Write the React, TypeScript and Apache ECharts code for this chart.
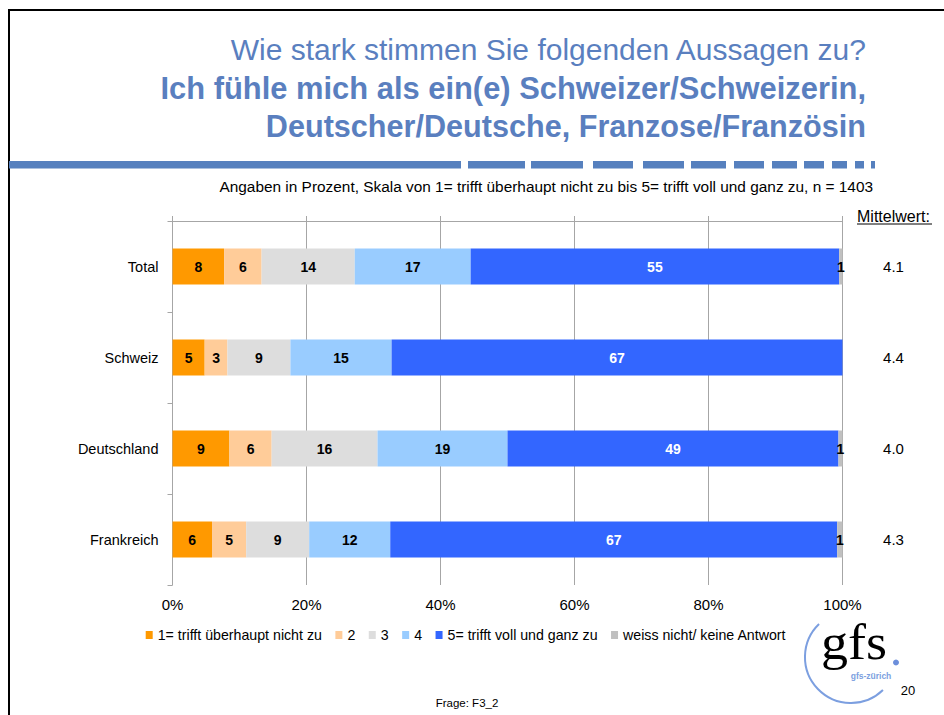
import React, { useEffect, useRef } from "react";
import * as echarts from "echarts";

const categories = ["Total", "Schweiz", "Deutschland", "Frankreich"];
const seriesNames = [
  "1= trifft überhaupt nicht zu",
  "2",
  "3",
  "4",
  "5= trifft voll und ganz zu",
  "weiss nicht/ keine Antwort",
];
const s1 = [7.7, 4.8, 8.5, 5.9];
const s2 = [5.6, 3.4, 6.3, 5.1];
const s3 = [13.9, 9.4, 15.8, 9.4];
const s4 = [17.3, 15.1, 19.4, 12.1];
const s5 = [55.0, 67.3, 49.4, 66.7];
const s6 = [0.5, 0, 0.6, 0.8];
const means = [4.1, 4.4, 4.0, 4.3];
const xTicks = [0, 20, 40, 60, 80, 100];

const colors = ["#FF9900", "#FFCC99", "#DDDDDD", "#99CCFF", "#3366FF", "#C0C0C0"];
const labelColors = ["#000", "#000", "#000", "#000", "#fff", "#000"];

const TITLE_BLUE = "#5A7FBF";
const BAR_BLUE = "#5680BE";
const FONT = "'Liberation Sans', Arial, sans-serif";

// decorative dash segments of the header rule [x0, x1]
const dashes: [number, number][] = [
  [9, 461], [468, 525], [531, 583], [593, 633], [643, 684], [691, 726],
  [734, 764], [772, 797], [804, 824], [832, 847], [855, 864], [871, 875],
];

export default function App() {
  const ref = useRef<HTMLDivElement>(null);
  useEffect(() => {
    if (!ref.current) return;
    const chart = echarts.init(ref.current, undefined, { renderer: "svg" });
    const data = [s1, s2, s3, s4, s5, s6];
    const gridColor = "#A6A6A6";
    const graphic: any[] = [
      {
        type: "rect",
        shape: { x: 9, y: 10, width: 960, height: 720 },
        style: { fill: "none", stroke: "#000", lineWidth: 2 },
        silent: true,
      },
      {
        type: "text", x: 866, y: 49.5,
        style: { text: "Wie stark stimmen Sie folgenden Aussagen zu?", fill: TITLE_BLUE, font: `30px ${FONT}`, textAlign: "right", textVerticalAlign: "middle" },
      },
      {
        type: "text", x: 866, y: 88.5,
        style: { text: "Ich fühle mich als ein(e) Schweizer/Schweizerin,", fill: TITLE_BLUE, font: `bold 30.9px ${FONT}`, textAlign: "right", textVerticalAlign: "middle" },
      },
      {
        type: "text", x: 866, y: 126,
        style: { text: "Deutscher/Deutsche, Franzose/Französin", fill: TITLE_BLUE, font: `bold 30.6px ${FONT}`, textAlign: "right", textVerticalAlign: "middle" },
      },
      ...dashes.map(([a, b]) => ({
        type: "rect",
        shape: { x: a, y: 161, width: b - a, height: 7.5 },
        style: { fill: BAR_BLUE },
        silent: true,
      })),
      {
        type: "text", x: 873, y: 186.5,
        style: { text: "Angaben in Prozent, Skala von 1= trifft überhaupt nicht zu bis 5= trifft voll und ganz zu, n = 1403", fill: "#000", font: `15.4px ${FONT}`, textAlign: "right", textVerticalAlign: "middle" },
      },
      {
        type: "text", x: 857, y: 216,
        style: { text: "Mittelwert:", fill: "#000", font: `16px ${FONT}`, textAlign: "left", textVerticalAlign: "middle" },
      },
      {
        type: "line",
        shape: { x1: 857, y1: 224, x2: 932, y2: 224 },
        style: { stroke: "#000", lineWidth: 1 },
      },
      // logo
      {
        type: "arc",
        shape: { cx: 851, cy: 657, r: 46, startAngle: (46 * Math.PI) / 180, endAngle: (226 * Math.PI) / 180, clockwise: true },
        style: { stroke: "#7C9FE0", lineWidth: 2, fill: "none" },
      },
      {
        type: "text", x: 821, y: 642.5, scaleX: 1.08,
        style: { text: "gfs", fill: "#000", font: `50px 'Liberation Serif', 'Times New Roman', serif`, lineHeight: 40, textAlign: "left", textVerticalAlign: "middle" },
      },
      {
        type: "circle",
        shape: { cx: 896, cy: 662.5, r: 3 },
        style: { fill: "#6C8FDB" },
      },
      {
        type: "text", x: 871, y: 676,
        style: { text: "gfs-zürich", fill: "#7C9FE0", font: `bold 8.5px ${FONT}`, textAlign: "center", textVerticalAlign: "middle" },
      },
      {
        type: "text", x: 908, y: 690,
        style: { text: "20", fill: "#000", font: `13px ${FONT}`, textAlign: "center", textVerticalAlign: "middle" },
      },
      {
        type: "text", x: 467, y: 703,
        style: { text: "Frage: F3_2", fill: "#000", font: `11.5px ${FONT}`, textAlign: "center", textVerticalAlign: "middle" },
      },
    ];

    chart.setOption({
      animation: false,
      backgroundColor: "#fff",
      textStyle: { fontFamily: FONT },
      grid: { left: 172.5, right: 101.5, top: 221, bottom: 130, containLabel: false, outerBoundsMode: "none" },
      legend: {
        data: seriesNames,
        left: 145.7,
        top: 628,
        padding: 0,
        icon: "rect",
        itemWidth: 7,
        itemHeight: 8,
        itemGap: 13.5,
        textStyle: { fontSize: 14.2, color: "#000", fontFamily: FONT },
        selectedMode: false,
      },
      xAxis: [
        {
          type: "value", min: xTicks[0], max: xTicks[xTicks.length - 1], interval: xTicks[1] - xTicks[0], position: "bottom",
          axisLine: { show: false }, axisTick: { show: false },
          splitLine: { show: true, lineStyle: { color: gridColor, width: 1 } },
          axisLabel: { formatter: "{value}%", fontSize: 15, color: "#000", margin: 12 },
        },
        {
          type: "value", min: xTicks[0], max: xTicks[xTicks.length - 1], interval: xTicks[1] - xTicks[0], position: "top",
          axisLine: { show: true, lineStyle: { color: gridColor, width: 1 } },
          axisTick: { show: true, length: 5, lineStyle: { color: gridColor } },
          axisLabel: { show: false }, splitLine: { show: false },
        },
      ],
      yAxis: [
        {
          type: "category", data: categories, inverse: true,
          axisLine: { show: true, lineStyle: { color: gridColor, width: 1 } },
          axisTick: { show: true, length: 5, lineStyle: { color: gridColor } },
          axisLabel: { fontSize: 14.5, color: "#000", margin: 14 },
        },
        {
          type: "category", data: categories, inverse: true, position: "right",
          axisLine: { show: false }, axisTick: { show: false },
          axisLabel: { formatter: (_v: string, i: number) => means[i].toFixed(1), fontSize: 15, color: "#000", margin: 51, align: "center" },
        },
      ],
      series: data.map((d, k) => ({
        name: seriesNames[k],
        type: "bar",
        stack: "all",
        xAxisIndex: 0,
        yAxisIndex: 0,
        barWidth: 36,
        data: d,
        itemStyle: { color: colors[k] },
        label: {
          show: true,
          position: "inside",
          formatter: (p: any) => (p.value > 0 ? String(Math.round(p.value)) : ""),
          fontSize: 14,
          fontWeight: "bold",
          color: labelColors[k],
          fontFamily: FONT,
        },
      })),
      graphic,
    });
    return () => chart.dispose();
  }, []);
  return <div ref={ref} style={{ position: "absolute", left: 0, top: 0, width: 944, height: 715 }} />;
}
